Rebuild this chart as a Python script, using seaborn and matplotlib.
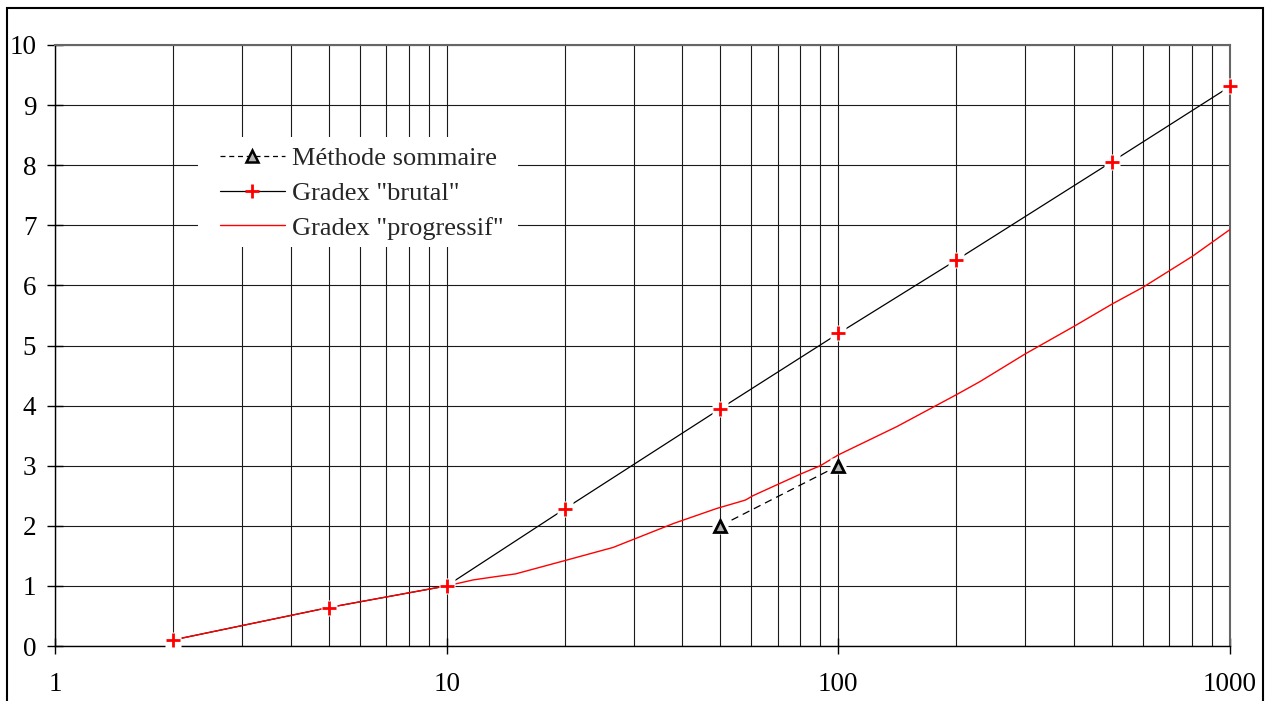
import matplotlib
matplotlib.use("Agg")
import matplotlib.pyplot as plt
import seaborn as sns
import pandas as pd
from matplotlib.lines import Line2D
from matplotlib.patches import Rectangle
from matplotlib.ticker import FixedLocator, FixedFormatter, LogLocator, NullFormatter

# Return periods (years) and rainfall gradex estimates
periods_brutal = [2, 5, 10, 20, 50, 100, 200, 500, 1000]
gradex_brutal = [0.10, 0.64, 1.0, 2.28, 3.95, 5.20, 6.42, 8.06, 9.31]

periods_progressif = [2, 5, 10, 11.7, 13.2, 15, 20, 26.6, 38, 49, 56, 58, 60.5,
                      80, 90, 100, 141, 200, 230, 300, 400, 500, 600, 800, 1000]
gradex_progressif = [0.10, 0.64, 1.0, 1.10, 1.15, 1.20, 1.42, 1.64, 2.04, 2.29, 2.40, 2.43, 2.50,
                     2.86, 3.00, 3.18, 3.65, 4.18, 4.40, 4.86, 5.32, 5.69, 5.97, 6.48, 6.93]

periods_sommaire = [50, 100]
methode_sommaire = [2.0, 3.0]

labels = ["Méthode sommaire", 'Gradex "brutal"', 'Gradex "progressif"']
x_ticks = [1, 10, 100, 1000]
x_tick_labels = ["1", "10", "100", "1000"]
y_ticks = list(range(0, 11))

sns.set_style("white")
plt.rcParams["font.family"] = ["Liberation Serif", "DejaVu Serif"]

df_brutal = pd.DataFrame({"T": periods_brutal, "G": gradex_brutal})
df_prog = pd.DataFrame({"T": periods_progressif, "G": gradex_progressif})
df_somm = pd.DataFrame({"T": periods_sommaire, "G": methode_sommaire})

W, H = 1267, 701
fig = plt.figure(figsize=(W / 100, H / 100), dpi=100)
ax = fig.add_axes([55 / W, 1 - 646 / H, 1175 / W, 601 / H])
ax.set_xscale("log")

sns.lineplot(data=df_brutal, x="T", y="G", ax=ax, color="black", lw=0.9,
             estimator=None, sort=False, zorder=3)
sns.lineplot(data=df_somm, x="T", y="G", ax=ax, color="black", lw=0.9,
             linestyle=(0, (6, 4)), estimator=None, sort=False, zorder=3)
sns.lineplot(data=df_prog, x="T", y="G", ax=ax, color="#ff0000", lw=1.0,
             estimator=None, sort=False, zorder=4)

# white halo behind each marker
ax.plot(periods_brutal, gradex_brutal, "s", ms=11, mfc="white", mec="none",
        zorder=5, clip_on=False)
ax.plot(periods_sommaire, methode_sommaire, "s", ms=12, mfc="white", mec="none",
        zorder=5, clip_on=False)
ax.plot(periods_brutal, gradex_brutal, "+", ms=10, mec="#ff0000", mew=2,
        zorder=6, clip_on=False)
ax.plot(periods_sommaire, methode_sommaire, "^", ms=9, mfc="#b3b3b3", mec="black",
        mew=2, zorder=6, clip_on=False)

ax.set_xlim(1, 1000)
ax.set_ylim(0, 10)
ax.set_xlabel("")
ax.set_ylabel("")

ax.xaxis.set_major_locator(FixedLocator(x_ticks))
ax.xaxis.set_major_formatter(FixedFormatter(x_tick_labels))
ax.xaxis.set_minor_locator(LogLocator(base=10, subs=range(2, 10)))
ax.xaxis.set_minor_formatter(NullFormatter())
ax.yaxis.set_major_locator(FixedLocator(y_ticks))
ax.set_yticklabels([str(v) for v in y_ticks])

ax.tick_params(axis="x", which="major", direction="inout", length=12, width=1,
               pad=12.5, labelsize=19.5, colors="black", bottom=True)
ax.tick_params(axis="x", which="minor", length=0)
ax.tick_params(axis="y", which="major", direction="inout", length=11, width=1,
               pad=8, labelsize=19.5, colors="black", left=True)

ax.set_axisbelow(True)
ax.grid(True, which="both", axis="x", color="#1a1a1a", lw=0.8)
ax.grid(True, which="major", axis="y", color="#1a1a1a", lw=0.8)

for side in ["left", "bottom"]:
    ax.spines[side].set_color("black")
    ax.spines[side].set_linewidth(1.0)
for side in ["top", "right"]:
    ax.spines[side].set_color("#666666")
    ax.spines[side].set_linewidth(1.5)

# blank area behind the legend, hiding the grid
ax.add_patch(Rectangle((198 / W, 1 - 247 / H), (518 - 198) / W, (247 - 137) / H,
                       transform=fig.transFigure, facecolor="white", edgecolor="none",
                       zorder=2))

handles = [
    Line2D([], [], color="black", lw=0.9, ls=(0, (4, 3)), marker="^", ms=8,
           mfc="#b3b3b3", mec="black", mew=1.8),
    Line2D([], [], color="black", lw=0.9, marker="+", ms=10, mec="#ff0000", mew=2),
    Line2D([], [], color="#ff0000", lw=1.0),
]
ax.legend(handles, labels, loc="upper left",
          bbox_to_anchor=(220 / W, 1 - 147 / H), bbox_transform=fig.transFigure,
          frameon=False, borderaxespad=0, borderpad=0, handlelength=2.46,
          handletextpad=0.27, labelspacing=0.42, fontsize=19, numpoints=1)

# outer chart frame
fig.add_artist(Rectangle((7 / W, -0.1), (1263 - 7) / W, 1 - 8 / H + 0.1,
                         transform=fig.transFigure, fill=False, ec="black", lw=1.5,
                         clip_on=False))

fig.savefig("out.png", dpi=100)
